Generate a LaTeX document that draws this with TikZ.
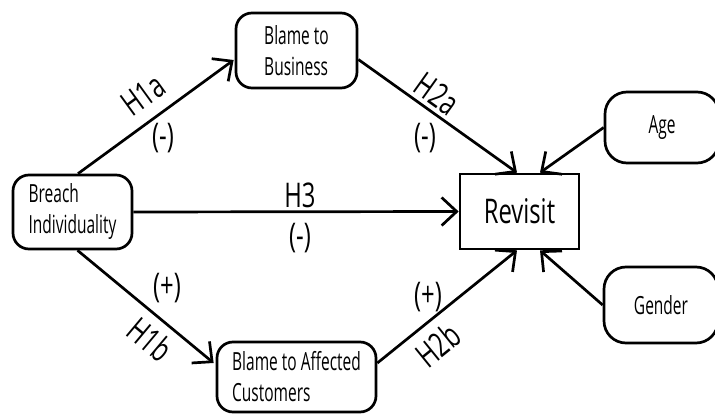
\documentclass[tikz,border=0pt]{standalone}
\usepackage{fontspec}
\setmainfont{Open Sans}[FakeStretch=0.62]
\newfontfamily\lblfont{Open Sans}[FakeStretch=0.7]
\usetikzlibrary{arrows.meta,calc}
\begin{document}
\begin{tikzpicture}[x=1pt,y=-1pt,
  box/.style={draw, line width=2.7pt, rounded corners=16pt, align=left, inner sep=0pt, font=\fontsize{25}{31}\selectfont},
  revbox/.style={draw, line width=2.7pt, inner sep=0pt, font=\lblfont\fontsize{34}{40}\selectfont},
  arr/.style={line width=2.7pt, -{Straight Barb[length=15pt,width=28pt]}},
  lab/.style={font=\lblfont\fontsize{34}{40}\selectfont, inner sep=0pt}]
\useasboundingbox (0,0) rectangle (715,414);
\node[box, minimum width=119pt, minimum height=74pt] (bi) at (72.5,212) {Breach\\Individuality};
\node[box, minimum width=121pt, minimum height=75pt] (bb) at (296.5,50.5) {Blame to\\Business};
\node[box, minimum width=159pt, minimum height=70pt] (ba) at (296.5,377) {Blame to Affected\\Customers};
\node[revbox, minimum width=119pt, minimum height=75pt] (rv) at (519.5,211.5) {Revisit};
\node[box, rounded corners=22pt, minimum width=114pt, minimum height=71pt] (age) at (662,127.5) {Age};
\node[box, rounded corners=22pt, minimum width=114pt, minimum height=76pt] (gen) at (661,305) {Gender};
\draw[arr] ($(bi.north)+(5.5,0)$) -- ($(bb.west)+(-1,9.5)$);
\draw[arr] ($(bi.south)+(5,0)$) -- ($(ba.west)+(-2,-14)$);
\draw[arr] (bi.east) -- (rv.west);
\draw[arr] ($(bb.east)+(0,9)$) -- ($(rv.north)+(-2.5,0)$);
\draw[arr] (age.west) -- ($(rv.north)+(20.5,0)$);
\draw[arr] ($(ba.east)+(0,-14)$) -- ($(rv.south)+(-2.5,0)$);
\draw[arr] (gen.west) -- ($(rv.south)+(20.5,0)$);
\node[lab, rotate=36] (h1a) at (143,95) {H1a};
\node[lab] (m1a) at (163,138) {(-)};
\node[lab, rotate=-35.5] (h2a) at (437,94) {H2a};
\node[lab] (m2a) at (425,138) {(-)};
\node[lab] (h3) at (300,195) {H3};
\node[lab] (m3) at (300,238) {(-)};
\node[lab, rotate=-40] (h1b) at (150,339) {H1b};
\node[lab] (p1b) at (167,288) {(+)};
\node[lab, rotate=39] (h2b) at (438,345) {H2b};
\node[lab] (p2b) at (428,297) {(+)};
\end{tikzpicture}
\end{document}
